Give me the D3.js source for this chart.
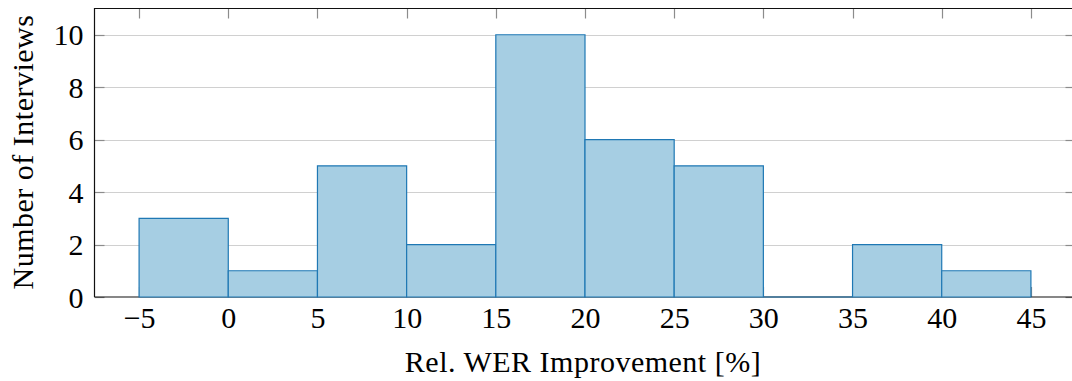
<!DOCTYPE html>
<html>
<head>
<meta charset="utf-8">
<script src="https://cdn.jsdelivr.net/npm/d3@7"></script>
<style>
  html, body { margin: 0; padding: 0; background: #fff; }
  svg { display: block; }
  text { font-family: "Liberation Serif", "Times New Roman", serif; fill: #000; }
</style>
</head>
<body>
<svg id="chart"></svg>
<script>
// histogram bins (left edge) and counts
const binStarts = [-5, 0, 5, 10, 15, 20, 25, 30, 35, 40];
const binWidth = 5;
const counts = [3, 1, 5, 2, 10, 6, 5, 0, 2, 1];
const xTicks = [-5, 0, 5, 10, 15, 20, 25, 30, 35, 40, 45];
const yTicks = [0, 2, 4, 6, 8, 10];

const width = 1072, height = 381;
const plotLeft = 94.5, plotRight = 1075.5, plotTop = 8.5, plotBottom = 297;
const fontSize = 30;

const svg = d3.select("#chart").attr("width", width).attr("height", height);

const x = d3.scaleLinear().domain([-7.5, 47.5]).range([plotLeft, plotRight]);
const y = d3.scaleLinear().domain([0, 11]).range([plotBottom, plotTop]);

// grid lines
svg.append("g")
    .selectAll("line")
    .data(yTicks.filter(d => d > 0))
    .enter()
    .append("line")
    .attr("x1", plotLeft).attr("x2", plotRight)
    .attr("y1", d => Math.round(y(d)) + 0.5).attr("y2", d => Math.round(y(d)) + 0.5)
    .attr("stroke", "#d0d0d0")
    .attr("stroke-width", 1.2);

// tick marks (inward, all four sides)
const tickLen = 10;
const ticks = svg.append("g").attr("stroke", "#8c8c8c").attr("stroke-width", 1.2);
xTicks.forEach(v => {
    const px = Math.round(x(v)) + 0.5;
    ticks.append("line").attr("x1", px).attr("x2", px).attr("y1", plotTop).attr("y2", plotTop + tickLen);
    ticks.append("line").attr("x1", px).attr("x2", px).attr("y1", plotBottom).attr("y2", plotBottom - tickLen);
});
yTicks.forEach(v => {
    const py = Math.round(y(v)) + 0.5;
    ticks.append("line").attr("x1", plotLeft).attr("x2", plotLeft + tickLen).attr("y1", py).attr("y2", py);
    ticks.append("line").attr("x1", plotRight).attr("x2", plotRight - tickLen).attr("y1", py).attr("y2", py);
});

// axis frame
svg.append("path")
    .attr("d", `M${plotLeft},${plotBottom}V${plotTop}H${plotRight}M${plotLeft},${plotBottom}H${plotRight}`)
    .attr("fill", "none")
    .attr("stroke", "#111")
    .attr("stroke-width", 1.2);

// bars (paths so that an empty bin still shows its outline)
svg.append("g")
    .selectAll("path")
    .data(binStarts)
    .enter()
    .append("path")
    .attr("d", (d, i) => {
        const x0 = x(d), x1 = x(d + binWidth), y0 = y(0), y1 = y(counts[i]);
        return `M${x0},${y0}V${y1}H${x1}V${y0}Z`;
    })
    .attr("fill", "#a6cee3")
    .attr("stroke", "#1f78b4")
    .attr("stroke-width", 1.2);

// tick labels via d3 axes
const xAxis = svg.append("g")
    .attr("transform", `translate(0,${plotBottom})`)
    .call(d3.axisBottom(x).tickValues(xTicks).tickSize(0).tickPadding(0));
xAxis.select(".domain").remove();
xAxis.selectAll("text")
    .attr("y", 31).attr("dy", null)
    .style("font-size", fontSize + "px")
    .style("font-family", "Liberation Serif, serif")
    .attr("fill", "#000");

const yAxis = svg.append("g")
    .attr("transform", `translate(${plotLeft},0)`)
    .call(d3.axisLeft(y).tickValues(yTicks).tickSize(0).tickPadding(0));
yAxis.select(".domain").remove();
yAxis.selectAll("text")
    .attr("x", -11).attr("dy", "0.34em")
    .style("font-size", fontSize + "px")
    .style("font-family", "Liberation Serif, serif")
    .attr("fill", "#000");

// axis titles
svg.append("text")
    .attr("x", 583).attr("y", 372)
    .attr("text-anchor", "middle")
    .style("font-size", fontSize + "px")
    .style("letter-spacing", "0.5px")
    .text("Rel. WER Improvement [%]");

svg.append("text")
    .attr("transform", "translate(33,152) rotate(-90)")
    .attr("text-anchor", "middle")
    .style("font-size", fontSize + "px")
    .style("letter-spacing", "0.5px")
    .text("Number of Interviews");
</script>
</body>
</html>
